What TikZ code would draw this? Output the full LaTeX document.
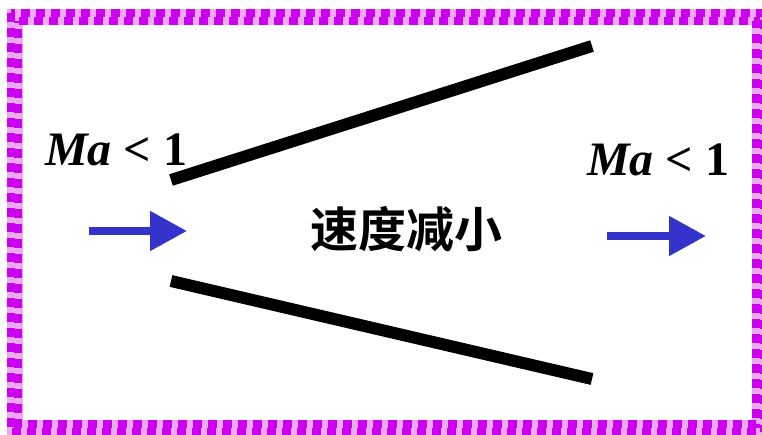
\documentclass[tikz,border=0pt]{standalone}
\usepackage{fontspec}
\usetikzlibrary{arrows.meta}
\setmainfont{Liberation Serif}
\newfontfamily\cjk{Noto Sans CJK SC Bold}
\definecolor{bluearr}{RGB}{51,51,204}
\definecolor{purp}{RGB}{204,0,238}
\definecolor{lpurp}{RGB}{236,170,245}
\begin{document}
\begin{tikzpicture}[x=1pt,y=-1pt,
  wall/.style={line width=12pt},
  flowarrow/.style={draw=bluearr,fill=bluearr,line width=8pt,-{Triangle[length=37pt,width=38pt]}},
  machlabel/.style={font=\fontsize{48}{48}\selectfont,inner sep=0pt,anchor=base west},
  rowA/.style={draw=purp,line width=8pt,dash pattern=on 9pt off 6pt},
  rowB/.style={draw=purp,line width=8pt,dash pattern=on 9pt off 6pt,dash phase=7.5pt}]
\useasboundingbox (0,0) rectangle (762,434);
\begin{scope}
\clip (0,0) rectangle (762,434);
\draw[lpurp,line width=16pt] (14.5,17) rectangle (760,428);
\draw[rowA] (11,13) rectangle (764,432);
\draw[rowB] (18,21) rectangle (756,424);
\end{scope}
% walls
\coordinate (u1) at (171,180);
\coordinate (u2) at (592,46);
\coordinate (l1) at (171,281);
\coordinate (l2) at (592,379);
\draw[wall] (u1) -- (u2);
\draw[wall] (l1) -- (l2);
% arrows
\coordinate (a1s) at (89,231);
\coordinate (a1e) at (187,231);
\coordinate (a2s) at (607,236);
\coordinate (a2e) at (706,236);
\draw[flowarrow] (a1s) -- (a1e);
\draw[flowarrow] (a2s) -- (a2e);
% labels
\node[machlabel] (m1) at (45,165) {\textbf{\textit{Ma}} \textbf{<} \textbf{1}};
\node[machlabel] (m2) at (587,175) {\textbf{\textit{Ma}} \textbf{<} \textbf{1}};
\node[font=\cjk\fontsize{48}{48}\selectfont,inner sep=0pt] (t) at (406,229) {速度减小};
\end{tikzpicture}
\end{document}
